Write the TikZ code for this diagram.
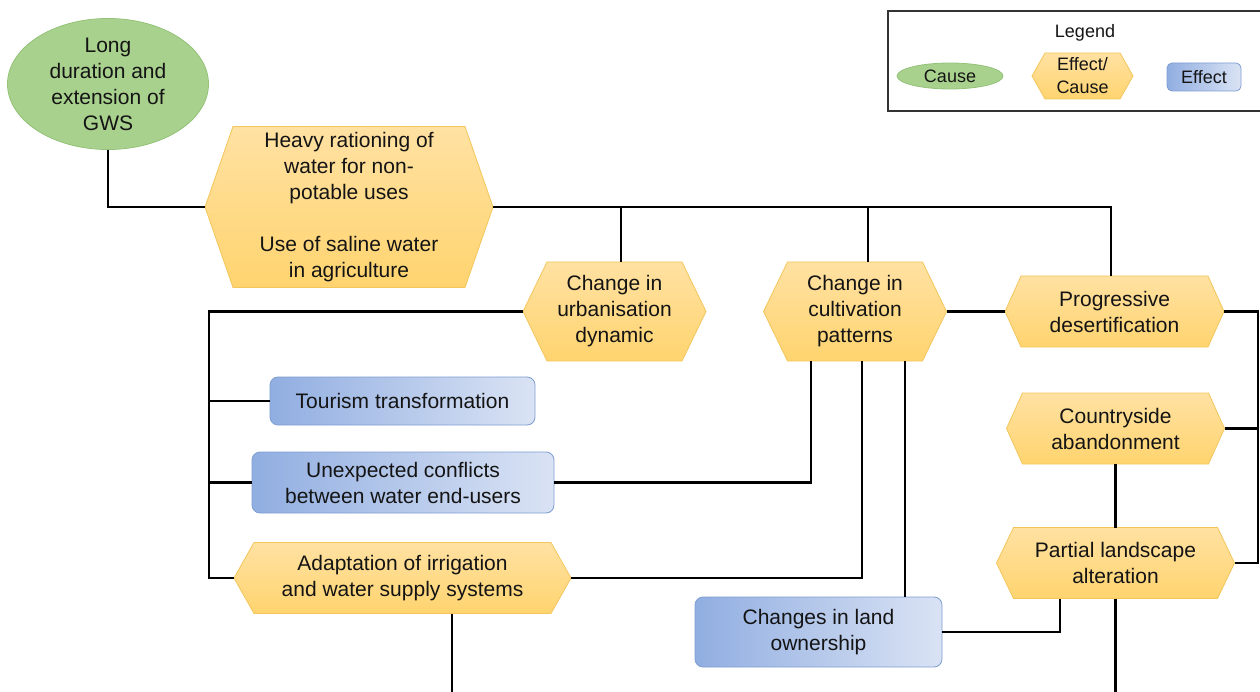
\documentclass[tikz,border=0pt]{standalone}
\usepackage{fontspec}
\setmainfont{Liberation Sans}
\usetikzlibrary{shapes.geometric}
\definecolor{ink}{HTML}{141414}
\definecolor{goldtop}{HTML}{FFE1A2}
\definecolor{goldbot}{HTML}{FFD46F}
\definecolor{goldline}{HTML}{F3C65C}
\definecolor{greenfill}{HTML}{A9D18E}
\definecolor{greenline}{HTML}{93C278}
\definecolor{bluel}{HTML}{91AEE1}
\definecolor{bluer}{HTML}{DAE3F4}
\definecolor{blueline}{HTML}{7F9DD2}
\tikzset{
  conn/.style={draw=black, line width=2.1pt},
  hexshape/.style={draw=goldline, line width=0.8pt, top color=goldtop, bottom color=goldbot},
  hextext/.style={rectangle, inner sep=0pt, outer sep=0pt, align=center, text=ink,
                  font=\fontsize{21}{26}\selectfont},
  causenode/.style={ellipse, draw=greenline, line width=0.8pt, fill=greenfill,
                  inner sep=0pt, outer sep=0pt, align=center, text=ink,
                  font=\fontsize{21}{26}\selectfont},
  effectnode/.style={rectangle, rounded corners=8pt, draw=blueline, line width=0.8pt,
                  left color=bluel, right color=bluer, inner sep=0pt, outer sep=0pt,
                  align=center, text=ink, font=\fontsize{21}{26}\selectfont},
  legendfont/.style={font=\fontsize{18}{23}\selectfont}
}
% hexagon with pointed left/right ends: name, cx, cy, width, height, inset, text
\newcommand\hexbox[8][]{%
  \path[hexshape] (#3-#5/2,#4) -- (#3-#5/2+#7,#4-#6/2) -- (#3+#5/2-#7,#4-#6/2)
    -- (#3+#5/2,#4) -- (#3+#5/2-#7,#4+#6/2) -- (#3-#5/2+#7,#4+#6/2) -- cycle;
  \node[hextext, minimum width=#5pt, minimum height=#6pt, #1] (#2) at (#3,#4) {#8};
}
\begin{document}
\begin{tikzpicture}[x=1pt, y=-1pt]
\useasboundingbox (0,0) rectangle (1260,692);

% causes and intermediate effects
\node[causenode, minimum width=201pt, minimum height=127pt] (gws) at (108,84)
  {Long\\duration and\\extension of\\GWS};
\hexbox{heavy}{349}{207}{288}{161}{28}
  {Heavy rationing of\\water for non-\\potable uses\\[26pt]Use of saline water\\in agriculture};
\hexbox{urb}{614.5}{311.5}{183}{99}{24}{Change in\\urbanisation\\dynamic};
\hexbox{cult}{855}{311.5}{183}{99}{24}{Change in\\cultivation\\patterns};
\hexbox{desert}{1114.5}{311.5}{219}{71}{16}{Progressive\\desertification};
\hexbox{country}{1115.5}{428.5}{218}{71}{16}{Countryside\\abandonment};
\hexbox{partial}{1115.5}{563}{238}{71}{17}{Partial landscape\\alteration};
\hexbox{adapt}{402.5}{578}{337}{71}{20}{Adaptation of irrigation\\and water supply systems};

% final effects
\node[effectnode, minimum width=265pt, minimum height=48pt] (tour) at (402.5,401)
  {Tourism transformation};
\node[effectnode, minimum width=302pt, minimum height=61pt] (unexp) at (403,482.5)
  {Unexpected conflicts\\between water end-users};
\node[effectnode, minimum width=247pt, minimum height=70pt] (land) at (818.5,632)
  {Changes in land\\ownership};

% junction points
\coordinate (ju) at (621,207);
\coordinate (jc) at (868,207);
\coordinate (jd) at (1111,207);
\coordinate (rr) at (1258,311.5);
\coordinate (ll) at (209,311.5);
\coordinate (bot) at (0,692);

% connectors
\draw[conn] (gws.south) |- (heavy.west);
\draw[conn] (heavy.east) -- (jd) -- (jd |- desert.north);
\draw[conn] (ju) -- (ju |- urb.north);
\draw[conn] (jc) -- (jc |- cult.north);
\draw[conn] (cult.east) -- (desert.west);
\draw[conn] (desert.east) -- (rr) |- (partial.east);
\draw[conn] (country.east) -- (country.east -| rr);
\draw[conn] (urb.west) -- (ll) |- (adapt.west);
\draw[conn] (tour.west) -- (tour.west -| ll);
\draw[conn] (unexp.west) -- (unexp.west -| ll);
\draw[conn] ([xshift=-44pt]cult.south) |- (unexp.east);
\draw[conn] ([xshift=7pt]cult.south) |- (adapt.east);
\draw[conn] ([xshift=50pt]cult.south) -- ([xshift=50pt]cult.south |- land.north);
\draw[conn] (country.south) -- (partial.north);
\draw[conn] (land.east) -| ([xshift=-55.5pt]partial.south);
\draw[conn] (partial.south) -- (partial.south |- bot);
\draw[conn] ([xshift=49.5pt]adapt.south) -- ([xshift=49.5pt]adapt.south |- bot);

% legend
\draw[draw=black!80, line width=1.6pt] (1262,11) -- (888,11) -- (888,111) -- (1262,111);
\node[legendfont, text=ink] (legtitle) at (1085,33) {Legend};
\node[causenode, legendfont, minimum width=106pt, minimum height=26pt] (legcause) at (950,76) {Cause};
\hexbox[legendfont]{legboth}{1082.5}{76}{101}{46}{13}{Effect/\\Cause};
\node[effectnode, legendfont, rounded corners=5pt, minimum width=74pt, minimum height=28pt] (legeffect) at (1204,77) {Effect};
\end{tikzpicture}
\end{document}
